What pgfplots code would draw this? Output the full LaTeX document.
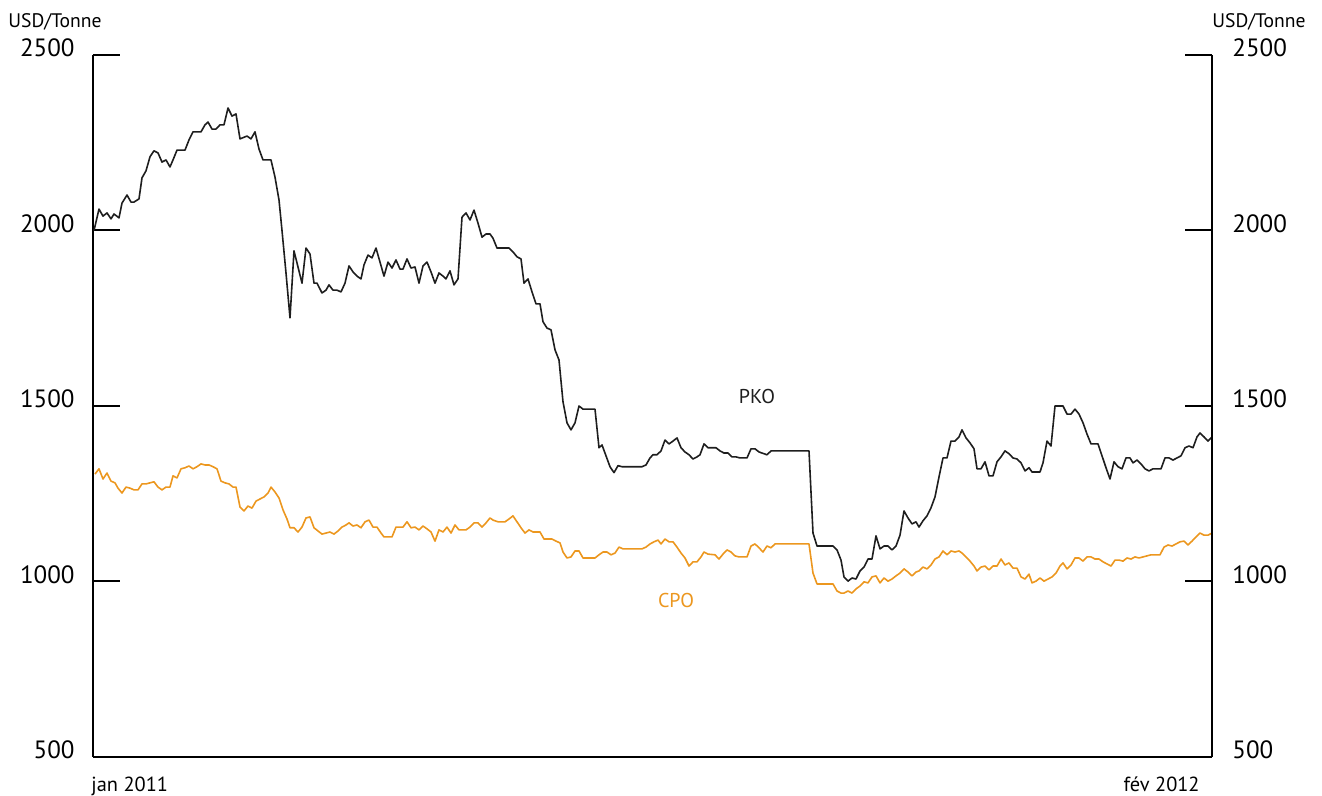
\documentclass[border=0pt]{standalone}
\usepackage{fontspec}
\setmainfont{PT Sans}
\usepackage{pgfplots}
\pgfplotsset{compat=1.18}

\definecolor{cpo}{RGB}{236,151,31}
\definecolor{pko}{RGB}{30,30,30}

\pgfplotstableread{
x y
94 2000
99 2061
103 2041
107 2050
111 2033
114 2047
119 2036
122 2078
127 2101
131 2081
134 2081
139 2090
142 2150
146 2170
150 2210
154 2227
158 2221
162 2195
166 2201
170 2181
173 2201
177 2229
185 2229
189 2258
193 2281
201 2281
205 2301
208 2309
212 2289
216 2289
220 2301
224 2301
228 2349
232 2326
236 2332
240 2261
247 2269
251 2261
255 2281
259 2232
263 2201
271 2201
275 2152
279 2087
282 2000
286 1879
290 1751
294 1942
298 1896
302 1850
306 1950
310 1933
314 1850
317 1850
322 1822
326 1830
329 1845
333 1830
337 1830
341 1825
345 1850
349 1899
353 1882
357 1870
361 1862
364 1902
368 1930
372 1922
376 1950
380 1910
384 1870
388 1910
392 1893
396 1916
400 1890
403 1890
407 1919
411 1893
415 1896
419 1850
423 1899
427 1910
431 1882
435 1850
439 1879
443 1870
446 1862
450 1885
454 1845
458 1862
462 2038
466 2050
470 2030
474 2058
478 2021
482 1981
486 1990
490 1990
493 1978
497 1950
509 1950
513 1939
517 1925
521 1919
524 1850
528 1862
532 1825
536 1791
540 1791
543 1740
547 1722
551 1717
555 1660
559 1631
563 1512
567 1452
571 1432
575 1452
579 1500
583 1491
595 1491
599 1381
602 1389
606 1358
610 1327
614 1310
618 1330
622 1327
642 1327
646 1332
650 1352
653 1361
657 1361
661 1372
665 1403
669 1392
673 1400
677 1409
681 1381
685 1369
689 1361
693 1349
697 1355
700 1361
704 1392
708 1381
716 1381
720 1372
724 1366
728 1366
732 1355
736 1355
740 1352
747 1352
751 1378
755 1378
759 1369
767 1361
771 1372
809 1372
813 1138
817 1101
833 1101
837 1090
841 1061
844 1013
848 1001
852 1010
856 1007
860 1030
864 1041
868 1064
872 1064
876 1130
880 1093
884 1101
888 1101
892 1090
896 1101
900 1132
904 1201
908 1181
912 1164
916 1170
919 1155
923 1173
927 1187
931 1210
935 1241
939 1298
943 1352
947 1352
951 1400
955 1400
959 1412
962 1432
966 1409
970 1395
974 1378
977 1321
981 1321
985 1341
989 1301
993 1301
997 1341
1001 1355
1005 1372
1009 1364
1013 1352
1017 1349
1021 1338
1025 1315
1029 1324
1032 1312
1040 1312
1043 1338
1047 1400
1051 1386
1055 1500
1063 1500
1067 1477
1071 1477
1075 1491
1079 1477
1083 1452
1087 1420
1091 1392
1098 1392
1102 1358
1106 1324
1110 1292
1114 1341
1118 1327
1122 1321
1126 1352
1130 1352
1133 1338
1137 1346
1141 1335
1145 1321
1149 1315
1153 1321
1161 1321
1165 1352
1169 1352
1173 1346
1177 1352
1181 1358
1185 1381
1189 1386
1193 1381
1197 1412
1200 1423
1204 1412
1208 1400
1212 1412
}\pkodata

\pgfplotstableread{
x y
95 1306
99 1321
103 1292
107 1309
111 1286
115 1281
118 1266
122 1252
126 1269
130 1266
134 1261
138 1261
142 1278
146 1278
150 1281
154 1284
158 1269
162 1261
166 1269
170 1269
173 1301
177 1295
181 1321
185 1324
189 1329
193 1321
197 1327
201 1335
205 1332
209 1332
213 1327
217 1321
221 1286
225 1281
229 1278
233 1269
236 1269
240 1212
244 1201
248 1215
252 1209
256 1229
260 1235
264 1241
268 1252
271 1269
275 1255
279 1238
283 1204
287 1178
290 1153
294 1153
298 1141
302 1155
306 1181
310 1184
314 1153
318 1144
322 1135
326 1138
330 1141
334 1135
338 1144
342 1155
346 1161
349 1167
353 1158
357 1161
361 1153
365 1170
369 1175
373 1155
377 1155
381 1138
384 1127
392 1127
396 1155
403 1155
407 1170
411 1153
415 1155
419 1147
423 1158
427 1150
431 1141
435 1115
439 1147
443 1141
447 1155
451 1138
455 1161
459 1147
466 1147
470 1155
474 1167
478 1167
482 1155
486 1167
490 1181
493 1175
498 1170
505 1170
509 1178
513 1187
517 1170
521 1153
525 1138
529 1147
533 1141
540 1141
544 1121
552 1121
556 1115
560 1110
563 1084
567 1067
571 1070
575 1087
579 1087
583 1067
595 1067
599 1076
603 1084
607 1084
611 1076
615 1081
619 1098
623 1093
642 1093
646 1098
650 1107
654 1113
658 1118
661 1107
665 1121
669 1113
673 1113
677 1098
681 1081
685 1067
689 1044
693 1056
697 1056
701 1070
704 1084
708 1078
715 1076
719 1064
723 1078
727 1090
731 1084
735 1073
739 1070
747 1070
751 1101
755 1107
759 1096
763 1084
767 1101
771 1096
775 1107
809 1107
813 1024
817 993
833 993
837 973
841 967
844 967
848 973
852 967
856 979
860 987
864 999
868 996
872 1013
876 1016
880 996
884 1010
888 1001
892 1007
896 1016
900 1024
904 1036
908 1027
912 1016
916 1027
919 1030
923 1041
927 1036
931 1047
935 1064
939 1070
943 1087
947 1076
951 1087
955 1084
959 1087
962 1081
966 1070
970 1058
974 1044
977 1030
981 1041
985 1044
989 1033
993 1044
997 1044
1001 1064
1005 1047
1009 1053
1013 1038
1017 1038
1021 1013
1025 1007
1029 1021
1032 996
1036 1001
1040 1010
1044 1001
1048 1007
1052 1013
1056 1024
1060 1044
1063 1053
1067 1036
1071 1047
1075 1067
1079 1067
1083 1058
1087 1070
1091 1070
1095 1064
1099 1064
1103 1056
1107 1050
1111 1044
1115 1061
1119 1061
1123 1058
1127 1067
1131 1064
1135 1070
1139 1067
1143 1070
1147 1073
1151 1076
1160 1076
1164 1098
1168 1104
1172 1101
1176 1107
1180 1113
1184 1115
1188 1104
1192 1115
1196 1127
1200 1138
1204 1132
1208 1132
1212 1138
}\cpodata

\pgfplotsset{
  priceaxis/.style={
    anchor=south west, at={(0,0)},
    scale only axis, width=559.5pt, height=351pt,
    xmin=93, xmax=1212, ymin=500, ymax=2500,
    ytick={500,1000,...,2500},
    xtick=\empty,
    axis line style={line width=1pt, black},
    major tick length=13.5pt,
    ytick style={line width=1pt, black},
    /pgf/number format/assume math mode=true,
    /pgf/number format/1000 sep={},
    clip=false,
  },
}

\begin{document}
\begin{tikzpicture}
\useasboundingbox (-46.5pt,-19.5pt) rectangle (614.5pt,378.5pt);

\begin{axis}[priceaxis,
    axis x line*=bottom, axis y line*=left,
    tick align=inside,
    yticklabel style={anchor=east, inner sep=0pt, xshift=-9pt, yshift=3.5pt,
      font=\fontsize{12.5}{14}\selectfont},
]
\addplot[pko, line width=0.8pt, line join=round] table[x=x, y=y] {\pkodata};
\addplot[cpo, line width=0.8pt, line join=round] table[x=x, y=y] {\cpodata};
\node[anchor=base, font=\fontsize{10}{12}\selectfont, text=pko] at (axis cs:757,1508) {PKO};
\node[anchor=base, font=\fontsize{10}{12}\selectfont, text=cpo] at (axis cs:676,925) {CPO};
\end{axis}

\begin{axis}[priceaxis,
    axis x line=none, axis y line*=right,
    tick align=inside,
    yticklabel style={anchor=west, inner sep=0pt, xshift=10pt, yshift=3.5pt,
      font=\fontsize{12.5}{14}\selectfont},
]
\end{axis}

\node[anchor=base west, inner sep=0pt, font=\fontsize{9.8}{12}\selectfont] at (-42.5pt,364.5pt) {USD/Tonne};
\node[anchor=base east, inner sep=0pt, font=\fontsize{9.8}{12}\selectfont] at (606.5pt,364.5pt) {USD/Tonne};
\node[anchor=base west, inner sep=0pt, font=\fontsize{10.2}{12}\selectfont] at (-1pt,-17.5pt) {jan 2011};
\node[anchor=base east, inner sep=0pt, font=\fontsize{10.2}{12}\selectfont] at (553.5pt,-17.5pt) {fév 2012};
\end{tikzpicture}
\end{document}
